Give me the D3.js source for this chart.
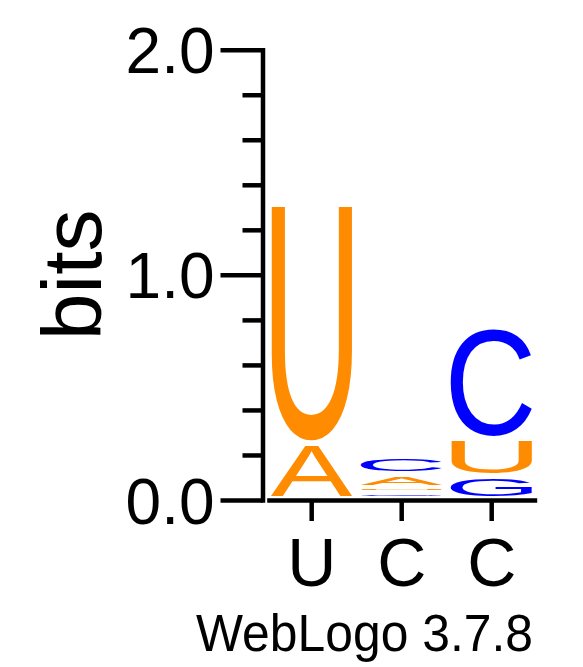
<!DOCTYPE html>
<html><head><meta charset="utf-8">
<script src="https://cdn.jsdelivr.net/npm/d3@7"></script>
<style>html,body{margin:0;padding:0;background:#fff;} svg{display:block}</style>
</head><body>
<svg id="chart" width="583" height="667"></svg>
<script>
// ---- data ----
const positions = [1, 2, 3];
const xLabels = ["U", "C", "C"];
const letters = ["A", "C", "G", "U"];
const bitsA = [0.247, 0.058, 0.0];
const bitsC = [0.0, 0.0735, 0.500];
const bitsG = [0.0, 0.024, 0.098];
const bitsU = [1.062, 0.026, 0.167];
const yMajorTicks = [0, 1, 2];
const yTickLabels = ["0.0", "1.0", "2.0"];
const yMinorTicks = [0.2, 0.4, 0.6, 0.8, 1.2, 1.4, 1.6, 1.8];
const yLabel = "bits";
const footer = "WebLogo 3.7.8";
const letterColors = {A: "#ff8c00", U: "#ff8c00", C: "#0000ff", G: "#0000ff"};
const seriesBits = {A: bitsA, C: bitsC, G: bitsG, U: bitsU};

// ---- layout ----
const FONT = "'Liberation Sans', Arial, Helvetica, sans-serif";
const svg = d3.select("#chart");
const y = d3.scaleLinear().domain([0, 2]).range([500, 49.7]);
const x = d3.scaleBand().domain(positions).range([266.7, 536.7]);
const axisX = 262.5;
const stroke = 4.5;

// glyph metrics via canvas
const ctx = document.createElement("canvas").getContext("2d");
function metrics(ch) {
  ctx.font = "100px " + FONT;
  const m = ctx.measureText(ch);
  return {l: m.actualBoundingBoxLeft, r: m.actualBoundingBoxRight,
          a: m.actualBoundingBoxAscent, d: m.actualBoundingBoxDescent};
}

// ---- letter stacks ----
const stackShift = -1.5, pad = 2.6, glyphFrac = 0.91;
const gStacks = svg.append("g");
positions.forEach((p, i) => {
  const col = letters.map(L => ({L, b: seriesBits[L][i]}))
    .filter(d => d.b > 0)
    .sort((a, b) => a.b - b.b);
  let cum = 0;
  const gw = x.bandwidth() * glyphFrac;
  const gx = x(p) + (x.bandwidth() - gw) / 2;
  col.forEach(d => {
    const boxBot = y(cum) + stackShift;
    const boxTop = y(cum + d.b) + stackShift;
    cum += d.b;
    let gTop = boxTop + pad, gBot = boxBot - pad;
    if (gBot - gTop < 0.6) { const c = (gTop + gBot) / 2; gTop = c - 0.3; gBot = c + 0.3; }
    const m = metrics(d.L);
    const sx = gw / (m.l + m.r), sy = (gBot - gTop) / (m.a + m.d);
    gStacks.append("text")
      .attr("font-family", FONT).attr("font-size", 100)
      .attr("fill", letterColors[d.L])
      .attr("transform", `translate(${gx},${gTop}) scale(${sx},${sy}) translate(${m.l},${m.a})`)
      .text(d.L);
  });
});

// ---- y axis ----
const gy = svg.append("g").attr("transform", `translate(${axisX},0)`)
  .call(d3.axisLeft(y).tickValues(yMajorTicks).tickSize(42).tickSizeOuter(0)
    .tickPadding(6).tickFormat((d, i) => yTickLabels[i]));
gy.select(".domain").attr("stroke-width", stroke).attr("stroke-linecap", "square");
gy.selectAll(".tick line").attr("stroke-width", stroke);
gy.selectAll(".tick text").attr("font-family", FONT).attr("font-size", 64)
  .attr("fill", "#000").attr("dy", "0.36em");

const gyMinor = svg.append("g").attr("transform", `translate(${axisX},0)`)
  .call(d3.axisLeft(y).tickValues(yMinorTicks).tickSize(20).tickSizeOuter(0).tickFormat(""));
gyMinor.select(".domain").remove();
gyMinor.selectAll(".tick line").attr("stroke-width", stroke);

// ---- x axis ----
const gx = svg.append("g").attr("transform", `translate(0,${y(0)})`)
  .call(d3.axisBottom(x).tickSize(21).tickSizeOuter(0).tickPadding(17)
    .tickFormat((d, i) => xLabels[i]));
gx.select(".domain").attr("stroke-width", stroke);
gx.selectAll(".tick line").attr("stroke-width", stroke);
gx.selectAll(".tick text").attr("font-family", FONT).attr("font-size", 68).attr("fill", "#000");

// ---- labels ----
svg.append("text")
  .attr("transform", `translate(100.5,${(y(0) + y(2)) / 2}) rotate(-90)`)
  .attr("text-anchor", "middle").attr("font-family", FONT).attr("font-size", 84)
  .attr("fill", "#000").text(yLabel);

svg.append("text").attr("x", 196).attr("y", 651)
  .attr("textLength", 337).attr("lengthAdjust", "spacingAndGlyphs")
  .attr("font-family", FONT).attr("font-size", 51).attr("fill", "#000").text(footer);
</script>
</body></html>
